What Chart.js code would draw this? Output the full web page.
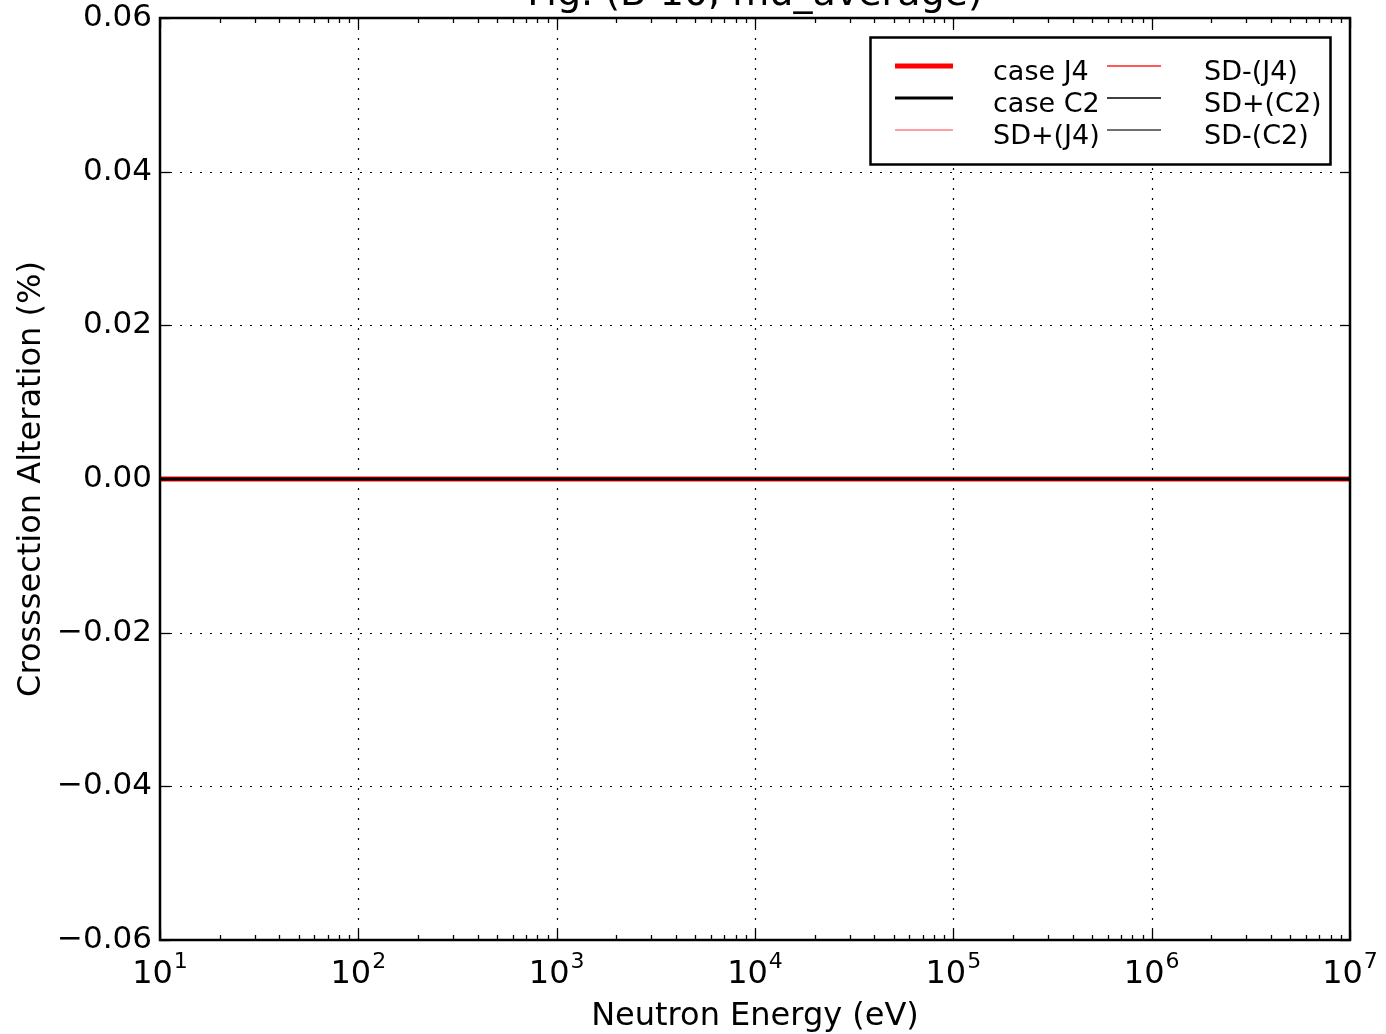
<!DOCTYPE html>
<html>
<head>
<meta charset="utf-8">
<script src="https://cdn.jsdelivr.net/npm/chart.js@4.4.1/dist/chart.umd.min.js"></script>
<style>
html,body{margin:0;padding:0;background:#fff;}
#wrap{width:1386px;height:1034px;position:relative;}
</style>
</head>
<body>
<div id="wrap"><canvas id="c" width="1386" height="1034"></canvas></div>
<script>
// ---- data ----
const energies = [10, 100, 1000, 10000, 100000, 1000000, 10000000];
const caseJ4  = [0, 0, 0, 0, 0, 0, 0];
const caseC2  = [0, 0, 0, 0, 0, 0, 0];
const sdPlusJ4  = [0, 0, 0, 0, 0, 0, 0];
const sdMinusJ4 = [0, 0, 0, 0, 0, 0, 0];
const sdPlusC2  = [0, 0, 0, 0, 0, 0, 0];
const sdMinusC2 = [0, 0, 0, 0, 0, 0, 0];
const yTicks = [-0.06, -0.04, -0.02, 0.00, 0.02, 0.04, 0.06];
const xDecades = [1, 2, 3, 4, 5, 6, 7];
const titleText = "Fig. (B-10, mu_average)";
const xLabel = "Neutron Energy (eV)";
const yLabel = "Crosssection Alteration (%)";

const FONT = '"DejaVu Sans", sans-serif';

function pts(ys){ return energies.map((x,i)=>({x:x, y:ys[i]})); }

const datasets = [
  {label:'case J4', data:pts(caseJ4), borderColor:'#ff0000', borderWidth:5, order:6},
  {label:'case C2', data:pts(caseC2), borderColor:'#000000', borderWidth:3, order:1},
  {label:'SD+(J4)', data:pts(sdPlusJ4), borderColor:'#ff7f7f', borderWidth:1.5, order:5},
  {label:'SD-(J4)', data:pts(sdMinusJ4), borderColor:'#ff2020', borderWidth:1.5, order:4},
  {label:'SD+(C2)', data:pts(sdPlusC2), borderColor:'#000000', borderWidth:1.5, order:3},
  {label:'SD-(C2)', data:pts(sdMinusC2), borderColor:'#707070', borderWidth:2, order:2}
];
datasets.forEach(d=>{ d.pointRadius=0; d.fill=false; d.tension=0; });

const overlay = {
  id:'overlay',
  afterDatasetsDraw(chart){
    const ctx = chart.ctx;
    const xs = chart.scales.x, ys = chart.scales.y;
    const a = chart.chartArea;
    ctx.save();
    // grid (dotted, drawn above lines like old matplotlib)
    ctx.strokeStyle = '#000';
    ctx.lineWidth = 1.2;
    ctx.setLineDash([2, 8]);
    xDecades.forEach(d=>{
      const px = Math.round(xs.getPixelForValue(Math.pow(10,d)))+0.5;
      if (px <= a.left+1 || px >= a.right-1) return;
      ctx.beginPath(); ctx.moveTo(px, a.bottom); ctx.lineTo(px, a.top); ctx.stroke();
    });
    yTicks.forEach(v=>{
      const py = Math.round(ys.getPixelForValue(v))+0.5;
      if (py <= a.top+1 || py >= a.bottom-1) return;
      ctx.beginPath(); ctx.moveTo(a.left, py); ctx.lineTo(a.right, py); ctx.stroke();
    });
    ctx.setLineDash([]);
    // ticks
    ctx.lineWidth = 1.3;
    const tick = (x1,y1,x2,y2)=>{ ctx.beginPath(); ctx.moveTo(x1,y1); ctx.lineTo(x2,y2); ctx.stroke(); };
    xDecades.forEach((d,i)=>{
      const px = Math.round(xs.getPixelForValue(Math.pow(10,d)))+0.5;
      tick(px, a.bottom, px, a.bottom-10); tick(px, a.top, px, a.top+10);
      if (i < xDecades.length-1) {
        for (let m=2;m<=9;m++){
          const qx = Math.round(xs.getPixelForValue(m*Math.pow(10,d)))+0.5;
          tick(qx, a.bottom, qx, a.bottom-5); tick(qx, a.top, qx, a.top+5);
        }
      }
    });
    yTicks.forEach(v=>{
      const py = Math.round(ys.getPixelForValue(v))+0.5;
      tick(a.left, py, a.left+10, py); tick(a.right, py, a.right-10, py);
    });
    // frame
    ctx.lineWidth = 2.5;
    ctx.strokeRect(a.left, a.top, a.right-a.left, a.bottom-a.top);
    // y tick labels
    ctx.fillStyle = '#000';
    ctx.font = '31px ' + FONT;
    ctx.textAlign = 'right';
    ctx.textBaseline = 'middle';
    yTicks.forEach(v=>{
      const py = ys.getPixelForValue(v);
      let s = Math.abs(v).toFixed(2);
      if (v < 0) s = '\u2212' + s;
      ctx.fillText(s, a.left - 8, py);
    });
    // x tick labels 10^n
    xDecades.forEach(d=>{
      const px = xs.getPixelForValue(Math.pow(10,d));
      ctx.font = '32px ' + FONT;
      const wBase = ctx.measureText('10').width;
      ctx.font = '22px ' + FONT;
      const sExp = String(d);
      const wExp = ctx.measureText(sExp).width;
      const total = wBase + 1 + wExp;
      const x0 = px - total/2;
      ctx.textAlign = 'left';
      ctx.textBaseline = 'alphabetic';
      ctx.font = '32px ' + FONT;
      ctx.fillText('10', x0, a.bottom + 43);
      ctx.font = '22px ' + FONT;
      ctx.fillText(sExp, x0 + wBase + 1, a.bottom + 28);
    });
    // axis labels
    ctx.font = '32px ' + FONT;
    ctx.textAlign = 'center';
    ctx.textBaseline = 'alphabetic';
    ctx.fillText(xLabel, (a.left+a.right)/2, 1025);
    ctx.save();
    ctx.translate(40, (a.top+a.bottom)/2);
    ctx.rotate(-Math.PI/2);
    ctx.fillText(yLabel, 0, 0);
    ctx.restore();
    // title (partly clipped at top)
    ctx.font = '38px ' + FONT;
    ctx.fillText(titleText, (a.left+a.right)/2, 5);
    // legend
    const lx = 870.5, ly = 37.5, lw = 460, lh = 127;
    ctx.fillStyle = '#fff';
    ctx.fillRect(lx, ly, lw, lh);
    ctx.strokeStyle = '#000';
    ctx.lineWidth = 2.5;
    ctx.strokeRect(lx, ly, lw, lh);
    const cols = [{x1:895, x2:953, tx:993}, {x1:1107, x2:1161, tx:1204}];
    const rows = [66, 98, 130];
    ctx.font = '27px ' + FONT;
    ctx.textAlign = 'left';
    ctx.textBaseline = 'alphabetic';
    chart.data.datasets.forEach((ds,k)=>{
      const c = cols[Math.floor(k/3)], r = rows[k%3];
      ctx.strokeStyle = ds.borderColor;
      ctx.lineWidth = ds.borderWidth;
      ctx.beginPath(); ctx.moveTo(c.x1, r); ctx.lineTo(c.x2, r); ctx.stroke();
      ctx.fillStyle = '#000';
      ctx.fillText(ds.label, c.tx, r + 14);
    });
    ctx.restore();
  }
};

new Chart(document.getElementById('c'), {
  type:'line',
  data:{datasets:datasets},
  options:{
    responsive:false,
    animation:false,
    devicePixelRatio:1,
    layout:{padding:{left:160, top:18, right:36, bottom:94}},
    plugins:{legend:{display:false}, title:{display:false}, tooltip:{enabled:false}},
    scales:{
      x:{type:'logarithmic', min:10, max:1e7, display:false},
      y:{type:'linear', min:-0.06, max:0.06, display:false}
    }
  },
  plugins:[overlay]
});
</script>
</body>
</html>
